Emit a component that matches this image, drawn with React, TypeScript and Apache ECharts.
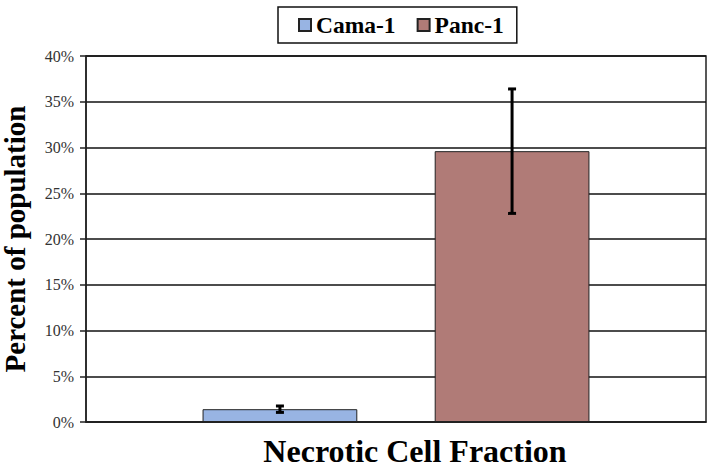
import React, { useEffect, useRef } from "react";
import * as echarts from "echarts";

const categories = ["Necrotic Cell Fraction"];
const seriesNames = ["Cama-1", "Panc-1"];
const camaValues = [1.4];
const camaErrors = [0.35];
const pancValues = [29.6];
const pancErrors = [6.8];
const yTicks = [0, 5, 10, 15, 20, 25, 30, 35, 40];

const colors = ["#98b4e3", "#b07b77"];
const CAT_GAP = 0.376;
const BAR_GAP = 0.5;

function errorSeries(name: string, values: number[], errors: number[], sign: number) {
  return {
    type: "custom",
    name: name + " err",
    z: 10,
    silent: true,
    legendHoverLink: false,
    data: values.map((v, i) => [i, v - errors[i], v + errors[i]]),
    renderItem: (params: any, api: any) => {
      const idx = api.value(0);
      const lo = api.coord([idx, api.value(1)]);
      const hi = api.coord([idx, api.value(2)]);
      const bw = api.size([1, 0])[0];
      const usable = bw * (1 - CAT_GAP);
      const barW = usable / (2 + BAR_GAP);
      const off = (barW * (1 + BAR_GAP)) / 2;
      const x = lo[0] + sign * off;
      const cap = 4;
      const style = { stroke: "#000", lineWidth: 3 };
      return {
        type: "group",
        children: [
          { type: "line", shape: { x1: x, y1: hi[1], x2: x, y2: lo[1] }, style },
          { type: "line", shape: { x1: x - cap, y1: hi[1], x2: x + cap, y2: hi[1] }, style },
          { type: "line", shape: { x1: x - cap, y1: lo[1], x2: x + cap, y2: lo[1] }, style },
        ],
      };
    },
  };
}

export default function App() {
  const ref = useRef<HTMLDivElement>(null);
  useEffect(() => {
    if (!ref.current) return;
    const chart = echarts.init(ref.current, null, { renderer: "svg" });
    const serif = "Liberation Serif";
    chart.setOption({
      animation: false,
      backgroundColor: "#fff",
      textStyle: { fontFamily: serif },
      legend: {
        data: seriesNames,
        left: 278,
        top: 7,
        padding: [6, 13, 6, 20],
        itemGap: 21,
        itemWidth: 12,
        itemHeight: 12,
        icon: "rect",
        borderColor: "#111",
        borderWidth: 1.5,
        textStyle: { fontFamily: serif, fontWeight: "bold", fontSize: 23.5, color: "#000" },
      },
      grid: {
        left: 86,
        right: 7,
        top: 56,
        bottom: 46,
        outerBoundsMode: "none",
        containLabel: false,
        show: true,
        borderColor: "#222",
        borderWidth: 1.5,
      },
      xAxis: {
        type: "category",
        data: categories,
        name: categories[0],
        nameLocation: "middle",
        nameGap: 13,
        nameTextStyle: {
          fontFamily: serif,
          fontWeight: "bold",
          fontSize: 32,
          color: "#000",
          padding: [0, 0, 0, 38],
        },
        axisLabel: { show: false },
        axisTick: { show: false },
        axisLine: { lineStyle: { color: "#222", width: 1.5 } },
      },
      yAxis: {
        type: "value",
        min: yTicks[0],
        max: yTicks[yTicks.length - 1],
        interval: 5,
        name: "Percent of population",
        nameLocation: "middle",
        nameGap: 57,
        nameTextStyle: { fontFamily: serif, fontWeight: "bold", fontSize: 29, color: "#000" },
        axisLine: { show: true, lineStyle: { color: "#222", width: 1.5 } },
        axisTick: { show: true, length: 6, lineStyle: { color: "#222", width: 1.5 } },
        axisLabel: {
          formatter: (v: number) => v + "%",
          fontFamily: serif,
          fontSize: 16,
          color: "#333",
          margin: 12,
        },
        splitLine: { lineStyle: { color: "#111", width: 1.5 } },
      },
      series: [
        {
          type: "bar",
          name: seriesNames[0],
          data: camaValues,
          barCategoryGap: CAT_GAP * 100 + "%",
          barGap: BAR_GAP * 100 + "%",
          itemStyle: { color: colors[0], borderColor: "#222", borderWidth: 1 },
        },
        {
          type: "bar",
          name: seriesNames[1],
          data: pancValues,
          barCategoryGap: CAT_GAP * 100 + "%",
          barGap: BAR_GAP * 100 + "%",
          itemStyle: { color: colors[1], borderColor: "#222", borderWidth: 1 },
        },
        errorSeries(seriesNames[0], camaValues, camaErrors, -1),
        errorSeries(seriesNames[1], pancValues, pancErrors, 1),
      ],
    });
    return () => chart.dispose();
  }, []);
  return (
    <div
      ref={ref}
      style={{ position: "fixed", left: 0, top: 0, width: 713, height: 468 }}
    />
  );
}
